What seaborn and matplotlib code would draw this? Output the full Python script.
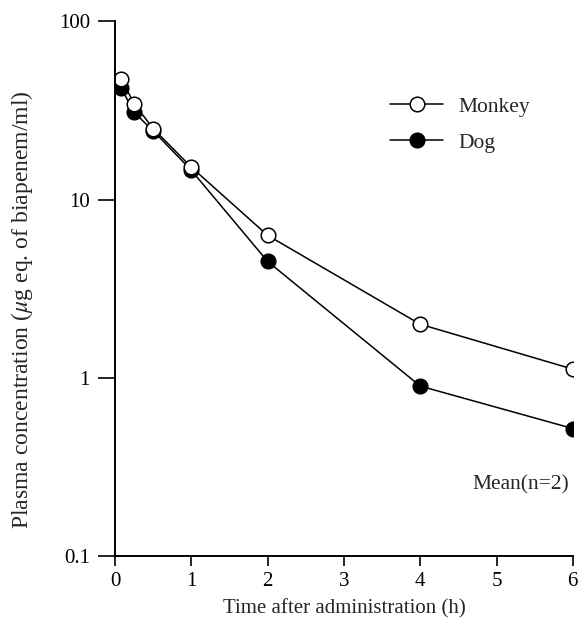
import numpy as np
import pandas as pd
import matplotlib
matplotlib.use('Agg')
import matplotlib.pyplot as plt
import seaborn as sns
from matplotlib.ticker import FixedLocator, FuncFormatter, NullLocator

# ── Data ────────────────────────────────────────────────────────────────────
time_h = [0.083, 0.25, 0.5, 1, 2, 4, 6]
monkey = [47.5, 34.5, 25.0, 15.2, 6.3, 2.0, 1.12]
dog    = [42.0, 30.8, 24.3, 14.6, 4.5, 0.90, 0.52]
y_ticks = [0.1, 1, 10, 100]
x_ticks = [0, 1, 2, 3, 4, 5, 6]

df = pd.DataFrame({
    'time': time_h * 2,
    'conc': monkey + dog,
    'species': ['Monkey'] * len(time_h) + ['Dog'] * len(time_h),
})

# ── Style ───────────────────────────────────────────────────────────────────
sns.set_style('ticks')
plt.rcParams['font.family'] = ['Liberation Serif', 'DejaVu Serif']
plt.rcParams['mathtext.fontset'] = 'stix'

fig = plt.figure(figsize=(5.78, 6.25), dpi=100)
ax = fig.add_axes([0.199, 0.110, 0.792, 0.856])

sns.lineplot(data=df[df.species == 'Dog'], x='time', y='conc', ax=ax,
             color='black', lw=1.1, marker='o', markersize=10.5,
             markerfacecolor='black', markeredgecolor='black',
             markeredgewidth=1.1, label='Dog')
sns.lineplot(data=df[df.species == 'Monkey'], x='time', y='conc', ax=ax,
             color='black', lw=1.1, marker='o', markersize=10.5,
             markerfacecolor='white', markeredgecolor='black',
             markeredgewidth=1.1, label='Monkey')

ax.set_yscale('log')
ax.set_ylim(0.1, 100)
ax.set_xlim(0, 6)
ax.yaxis.set_major_locator(FixedLocator(y_ticks))
ax.yaxis.set_major_formatter(FuncFormatter(lambda v, p: f'{v:g}'))
ax.yaxis.set_minor_locator(NullLocator())
ax.set_xticks(x_ticks)

for s in ['top', 'right']:
    ax.spines[s].set_visible(False)
for s in ['left', 'bottom']:
    ax.spines[s].set_linewidth(1.4)
    ax.spines[s].set_color('black')

ax.tick_params(axis='y', direction='out', length=12, width=1.2,
               labelsize=15, pad=6, colors='black')
ax.tick_params(axis='x', direction='out', length=7, width=1.2,
               labelsize=15, pad=4, colors='black')

ax.set_xlabel('Time after administration (h)', fontsize=15, labelpad=6)
ax.set_ylabel(r'Plasma concentration ($\mu$g eq. of biapenem/ml)',
              fontsize=17)
ax.yaxis.set_label_coords(-0.175, 0.46)

handles, labels = ax.get_legend_handles_labels()
order = [labels.index('Monkey'), labels.index('Dog')]
ax.legend([handles[i] for i in order], [labels[i] for i in order],
          loc='upper left', bbox_to_anchor=(0.581, 0.875), frameon=False,
          fontsize=15.5, handlelength=2.5, labelspacing=0.75,
          handletextpad=0.7, borderaxespad=0)

ax.text(4.68, 0.25, 'Mean(n=2)', fontsize=15.5, ha='left', va='center')

fig.savefig('out.png', dpi=100)
